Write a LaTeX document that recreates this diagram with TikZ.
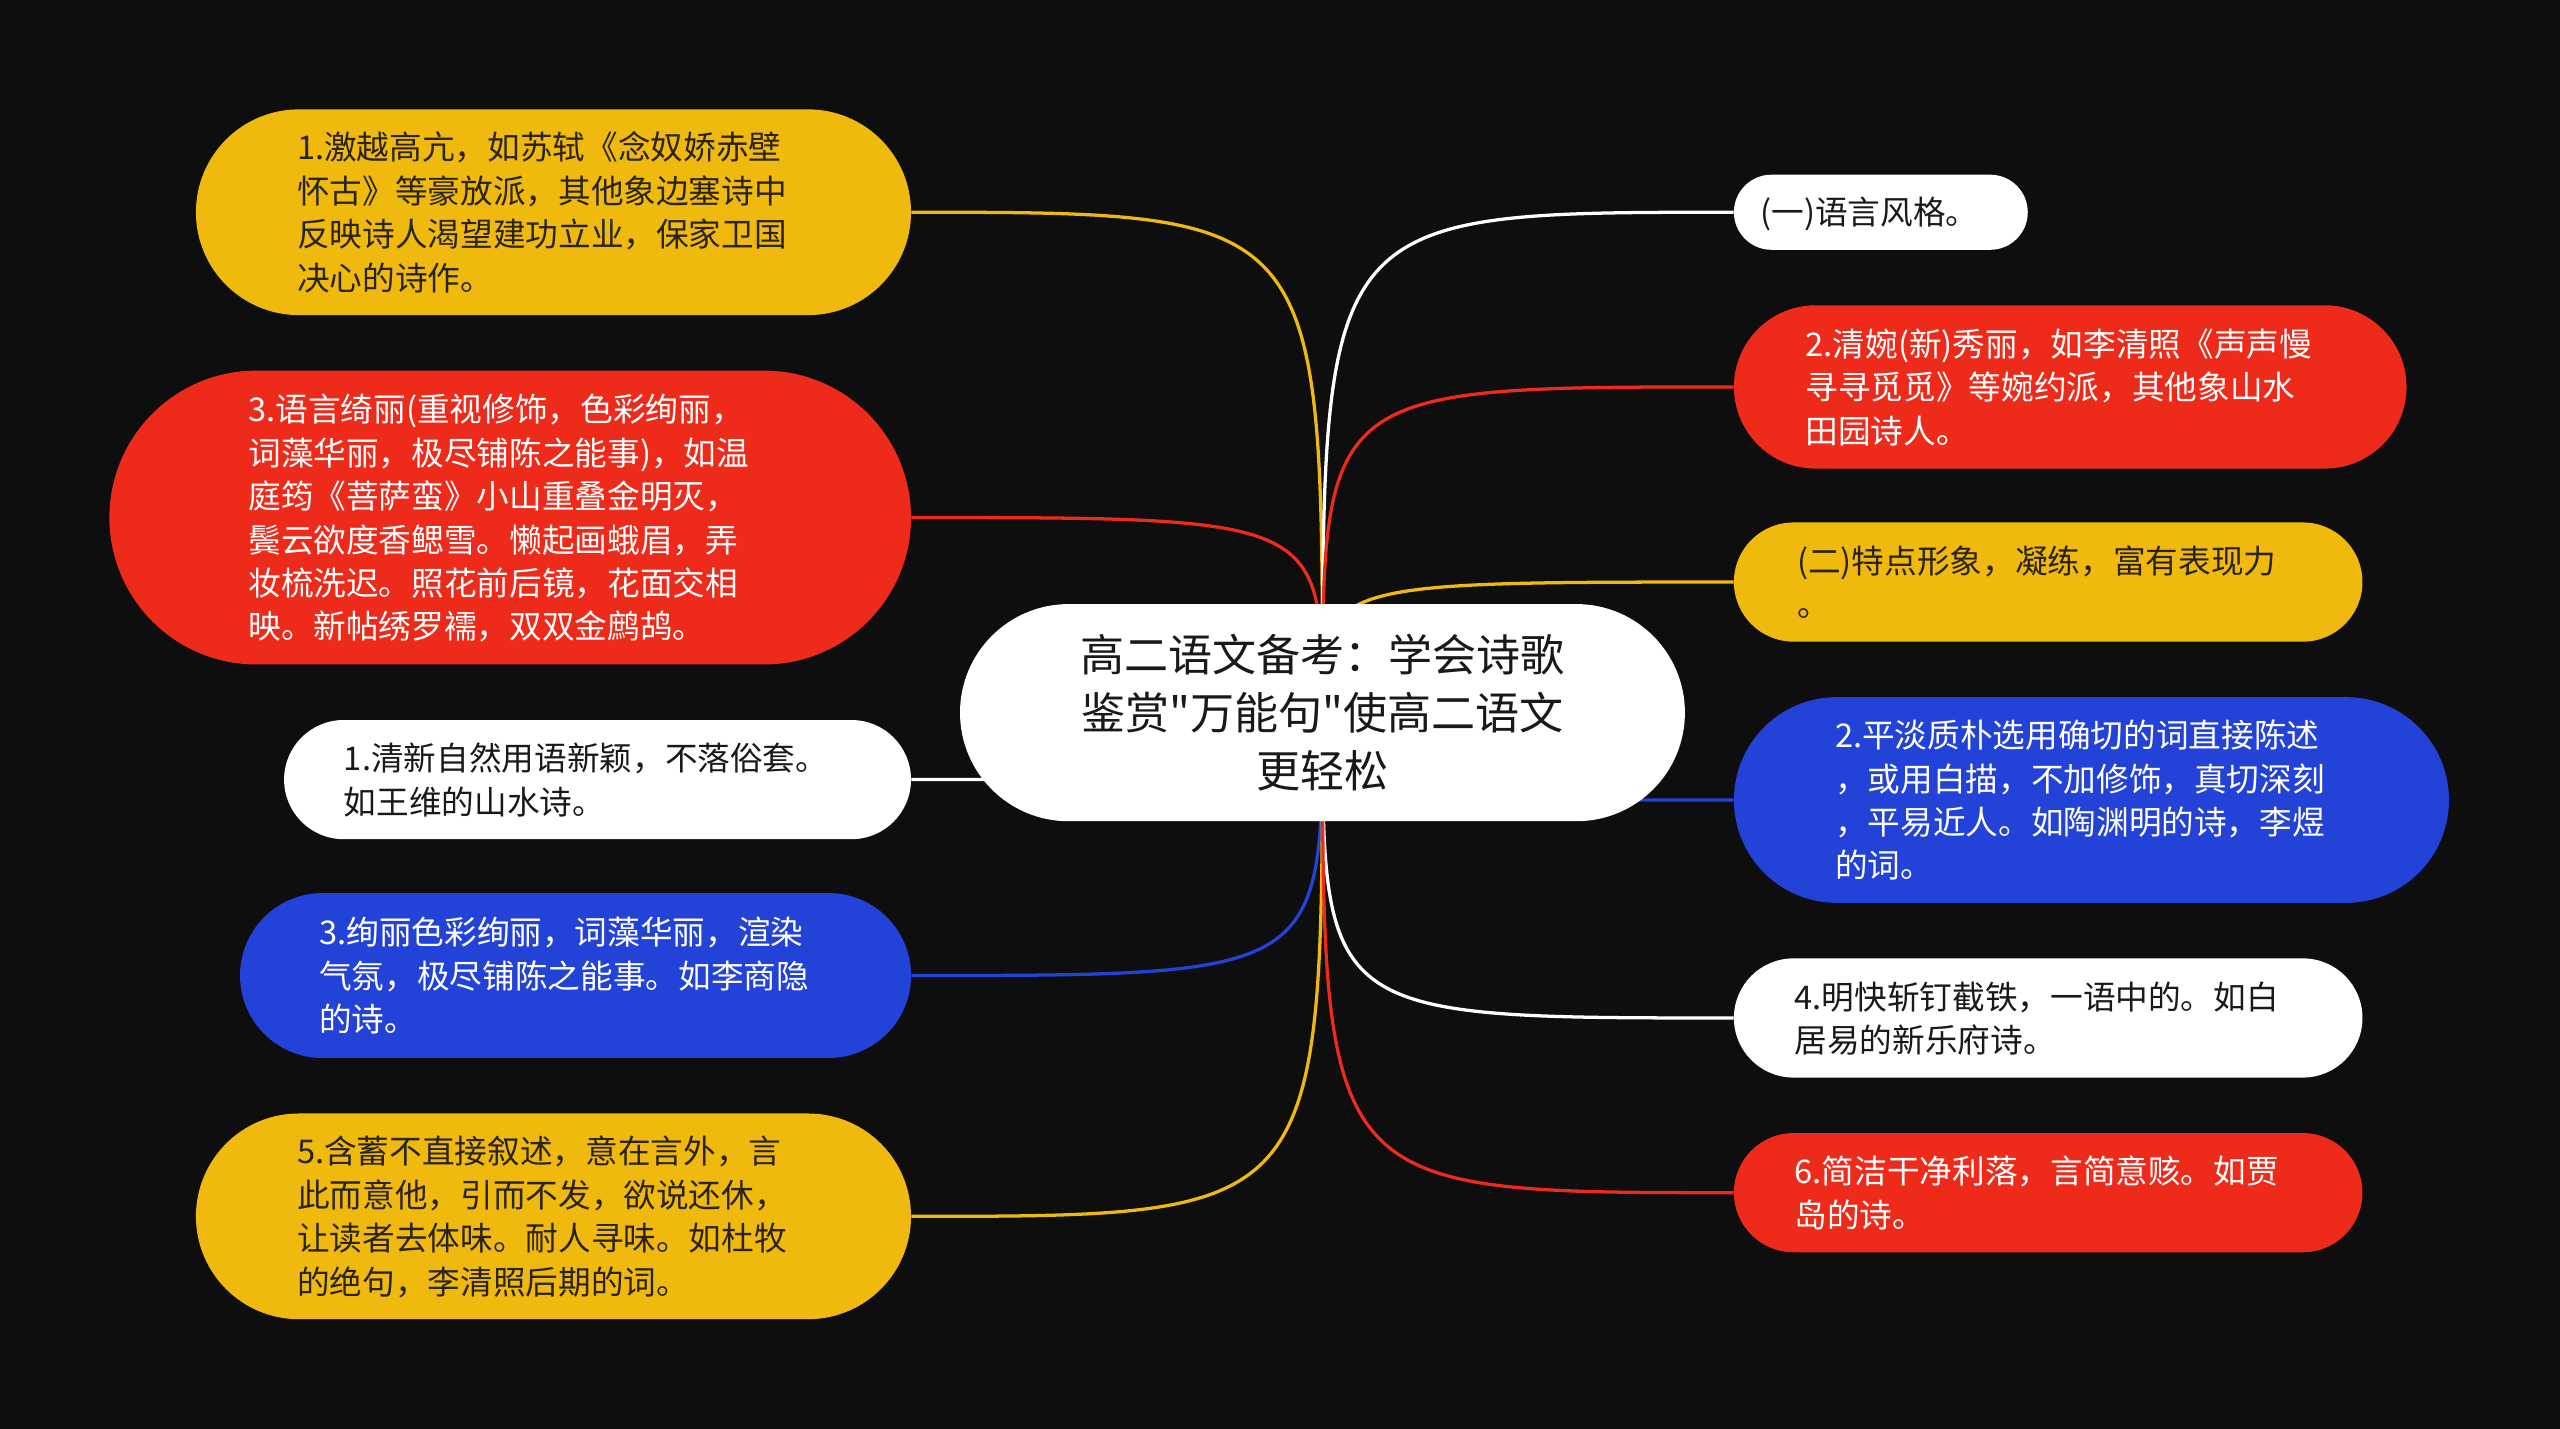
\documentclass[tikz,border=0pt]{standalone}
\usepackage{fontspec}
\newfontfamily\cjkfont{Noto Sans CJK SC}
\usetikzlibrary{shapes.misc}
\definecolor{bgc}{HTML}{0E0E0E}
\definecolor{cyel}{HTML}{F0B90D}
\definecolor{cred}{HTML}{EE2A1A}
\definecolor{cblue}{HTML}{2342D8}
\definecolor{dtext}{HTML}{2A2418}
\newcommand\txtblk[1]{\begin{tabular}{@{}l@{\hspace{14pt}}}\rule{0pt}{23.6pt}#1\end{tabular}}
\pgfdeclarelayer{bglayer}
\pgfdeclarelayer{edgelayer}
\pgfsetlayers{bglayer,edgelayer,main}
\tikzset{
  bubble/.style 2 args={rounded rectangle, inner sep=0pt, minimum width=#1, minimum height=#2,
     font=\cjkfont\fontsize{20}{26.6}\selectfont},
  ybox/.style={fill=cyel, text=dtext},
  rbox/.style={fill=cred, text=white},
  bbox/.style={fill=cblue, text=white},
  wbox/.style={fill=white, text=black!90},
  link/.style={line width=2pt},
}
\begin{document}
\begin{tikzpicture}[x=1pt,y=-1pt]
\begin{pgfonlayer}{bglayer}
\fill[bgc] (0,0) rectangle (1568,875);
\useasboundingbox (0,0) rectangle (1568,875);
\end{pgfonlayer}

\node[rounded rectangle, inner sep=0pt, minimum width=444pt, minimum height=133pt, fill=white, text=black!90,
  align=center, font=\cjkfont\fontsize{27}{35.5}\selectfont] (c) at (810,436.5)
  {高二语文备考：学会诗歌\\鉴赏"万能句"使高二语文\\更轻松};

% left
\node[bubble={438pt}{126pt}, ybox] (l1) at (339,130)
  {\txtblk{1.激越高亢，如苏轼《念奴娇赤壁\\怀古》等豪放派，其他象边塞诗中\\反映诗人渴望建功立业，保家卫国\\决心的诗作。}};
\node[bubble={491pt}{180pt}, rbox] (l2) at (312.5,317)
  {\txtblk{3.语言绮丽(重视修饰，色彩绚丽，\\词藻华丽，极尽铺陈之能事)，如温\\庭筠《菩萨蛮》小山重叠金明灭，\\鬓云欲度香鳃雪。懒起画蛾眉，弄\\妆梳洗迟。照花前后镜，花面交相\\映。新帖绣罗襦，双双金鹧鸪。}};
\node[bubble={384pt}{73pt}, wbox] (l3) at (366,477.5)
  {\txtblk{1.清新自然用语新颖，不落俗套。\\如王维的山水诗。}};
\node[bubble={411pt}{101pt}, bbox] (l4) at (352.5,597.5)
  {\txtblk{3.绚丽色彩绚丽，词藻华丽，渲染\\气氛，极尽铺陈之能事。如李商隐\\的诗。}};
\node[bubble={438pt}{126pt}, ybox] (l5) at (339,745)
  {\txtblk{5.含蓄不直接叙述，意在言外，言\\此而意他，引而不发，欲说还休，\\让读者去体味。耐人寻味。如杜牧\\的绝句，李清照后期的词。}};

% right
\node[bubble={180pt}{46pt}, wbox] (r1) at (1152,130)
  {\txtblk{(一)语言风格。}};
\node[bubble={412pt}{100pt}, rbox] (r2) at (1268,237)
  {\txtblk{2.清婉(新)秀丽，如李清照《声声慢\\寻寻觅觅》等婉约派，其他象山水\\田园诗人。}};
\node[bubble={385pt}{73pt}, ybox] (r3) at (1254.5,356.5)
  {\txtblk{(二)特点形象，凝练，富有表现力\\。}};
\node[bubble={438pt}{126pt}, bbox] (r4) at (1281,490)
  {\txtblk{2.平淡质朴选用确切的词直接陈述\\，或用白描，不加修饰，真切深刻\\，平易近人。如陶渊明的诗，李煜\\的词。}};
\node[bubble={385pt}{73pt}, wbox] (r5) at (1254.5,623.5)
  {\txtblk{4.明快斩钉截铁，一语中的。如白\\居易的新乐府诗。}};
\node[bubble={385pt}{73pt}, rbox] (r6) at (1254.5,730.5)
  {\txtblk{6.简洁干净利落，言简意赅。如贾\\岛的诗。}};

\begin{pgfonlayer}{edgelayer}
\draw[link, cyel]  (c.center) .. controls (c.center |- l1.east) .. (l1.east);
\draw[link, cred]  (c.center) .. controls (c.center |- l2.east) .. (l2.east);
\draw[link, white] (c.center) .. controls (c.center |- l3.east) .. (l3.east);
\draw[link, cblue] (c.center) .. controls (c.center |- l4.east) .. (l4.east);
\draw[link, cyel]  (c.center) .. controls (c.center |- l5.east) .. (l5.east);
\draw[link, white] (c.center) .. controls (c.center |- r1.west) .. (r1.west);
\draw[link, cred]  (c.center) .. controls (c.center |- r2.west) .. (r2.west);
\draw[link, cyel]  (c.center) .. controls (c.center |- r3.west) .. (r3.west);
\draw[link, cblue] (c.center) .. controls (c.center |- r4.west) .. (r4.west);
\draw[link, white] (c.center) .. controls (c.center |- r5.west) .. (r5.west);
\draw[link, cred]  (c.center) .. controls (c.center |- r6.west) .. (r6.west);
\end{pgfonlayer}
\end{tikzpicture}
\end{document}
